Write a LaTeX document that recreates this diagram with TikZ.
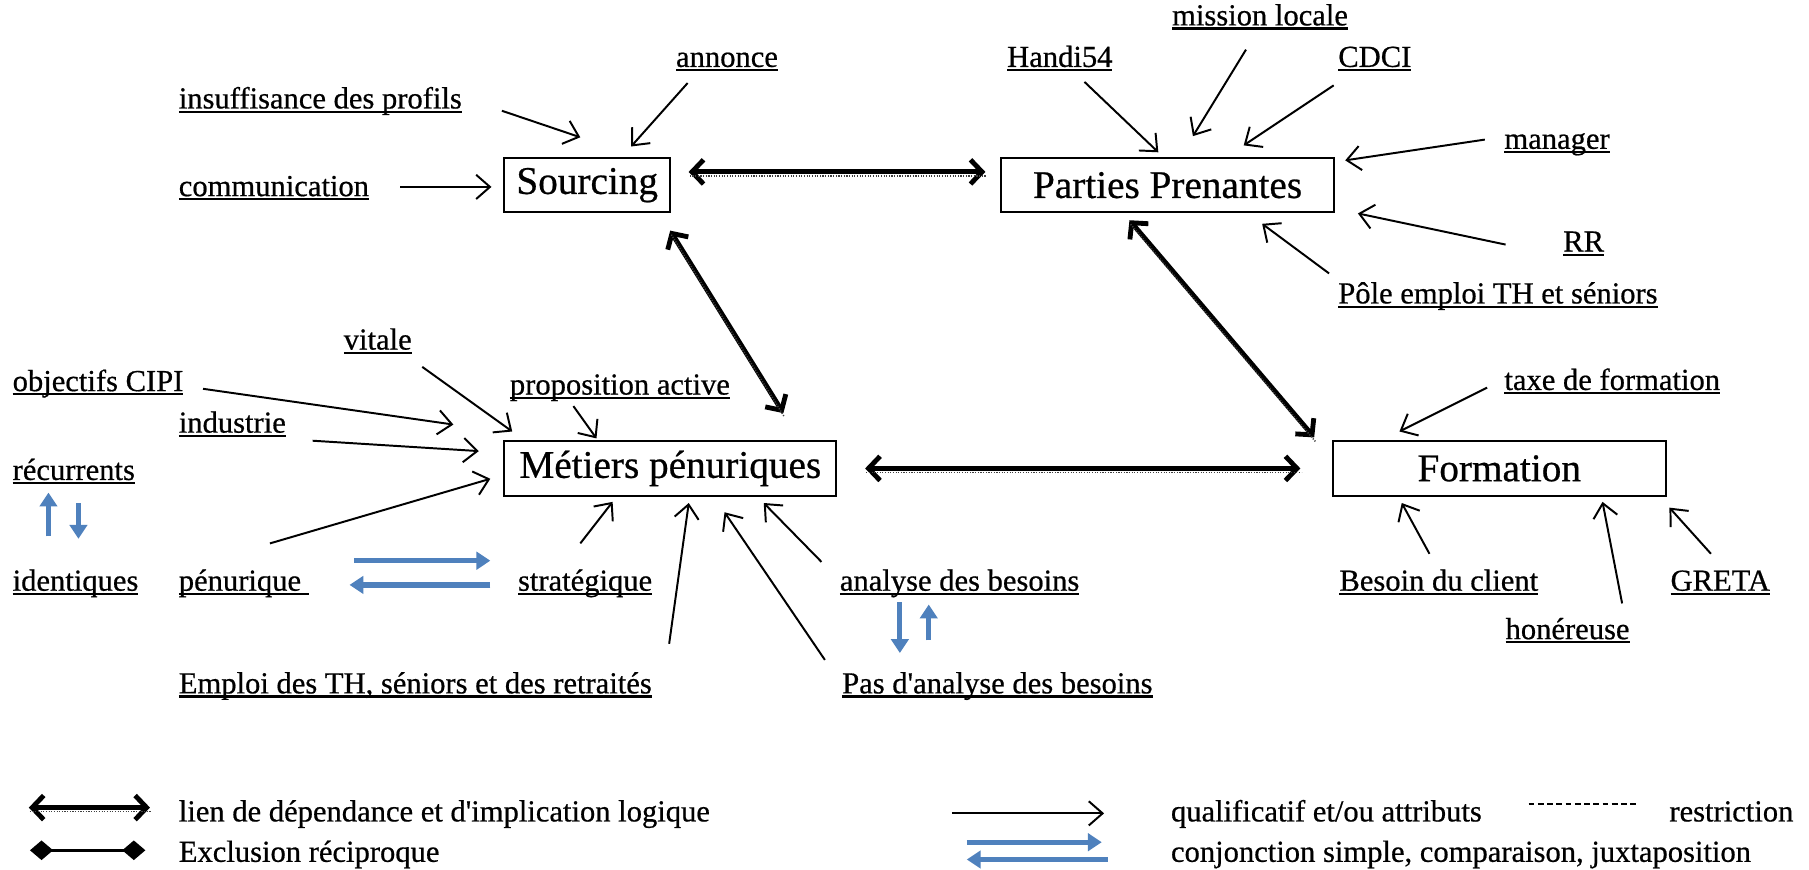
\documentclass[tikz,border=0pt]{standalone}
\usepackage{fontspec}
\setmainfont[FakeBold=0.6]{Liberation Serif}
\usetikzlibrary{arrows.meta}
\definecolor{lblue}{RGB}{79,129,189}
\newsavebox\ulbox
\newcommand\ulab[1]{\sbox\ulbox{#1}\rlap{\rule[-3.6pt]{\wd\ulbox}{1.8pt}}\usebox\ulbox}
\newcommand\qa[3]{\coordinate (#1a) at #2; \coordinate (#1b) at #3; \draw[attr] (#1a) -- (#1b);}
\newcommand\cj[3]{\coordinate (#1a) at #2; \coordinate (#1b) at #3; \draw[conj] (#1a) -- (#1b);}
\tikzset{
  lab/.style={anchor=base west, inner sep=0pt, outer sep=0pt},
  box/.style={draw, line width=1.8pt, minimum height=47pt, inner sep=0pt,
    font=\fontsize{34}{38}\selectfont},
  attr/.style={line width=1.7pt, -{Straight Barb[length=12pt,width=21pt]}},
  dep/.style={line width=4.2pt,
    {Straight Barb[length=10pt,width=21pt]}-{Straight Barb[length=10pt,width=21pt]},
    postaction={draw=black!75, -, line width=1.3pt, dash pattern=on 1pt off 1.3pt,
      transform canvas={shift={(1pt,-3.5pt)}}}},
  conj/.style={draw=lblue, line width=4.5pt, -{Triangle[length=12pt,width=15pt]}, lblue},
}
\begin{document}
\begin{tikzpicture}[x=1pt,y=-1pt,font=\fontsize{26.5}{30}\selectfont]
\fill[white] (0,0) rectangle (1568,754);
\useasboundingbox (0,0) rectangle (1568,754);

% boxes
\node[box, minimum width=144pt] (src) at (509,160.5) {Sourcing};
\node[box, minimum width=288pt] (pp) at (1012,160.5) {Parties Prenantes};
\node[box, minimum width=288pt, minimum height=48pt] (met) at (581,406) {Métiers pénuriques};
\node[box, minimum width=289pt, minimum height=48pt] (form) at (1299.5,406) {Formation};

% labels
\node[lab] (annonce) at (586,58) {\ulab{annonce}};
\node[lab] (insuf) at (155,94) {\ulab{insuffisance des profils}};
\node[lab] (comm) at (155,170) {\ulab{communication}};
\node[lab] (hand) at (873,58) {\ulab{Handi54}};
\node[lab] (mission) at (1016,22) {\ulab{mission locale}};
\node[lab] (cdci) at (1160,58) {\ulab{CDCI}};
\node[lab] (manager) at (1304,129) {\ulab{manager}};
\node[lab] (rr) at (1355,218) {\ulab{RR}};
\node[lab] (pole) at (1160,263) {\ulab{Pôle emploi TH et séniors}};
\node[lab] (vitale) at (298,303) {\ulab{vitale}};
\node[lab] (cipi) at (11,339) {\ulab{objectifs CIPI}};
\node[lab] (propo) at (442,342) {\ulab{proposition active}};
\node[lab] (indus) at (155,375) {\ulab{industrie}};
\node[lab] (recur) at (11,416) {\ulab{récurrents}};
\node[lab] (ident) at (11,512) {\ulab{identiques}};
\node[lab] (penur) at (155,512) {\ulab{pénurique\ }};
\node[lab] (strat) at (449,512) {\ulab{stratégique}};
\node[lab] (analyse) at (728,512) {\ulab{analyse des besoins}};
\node[lab] (besoin) at (1161,512) {\ulab{Besoin du client}};
\node[lab] (greta) at (1448,512) {\ulab{GRETA}};
\node[lab] (honer) at (1305,554) {\ulab{honéreuse}};
\node[lab] (taxe) at (1304,338) {\ulab{taxe de formation}};
\node[lab] (emploi) at (155,601) {\ulab{Emploi des TH, séniors et des retraités}};
\node[lab] (pas) at (730,601) {\ulab{Pas d\textquotesingle analyse des besoins}};

% thin qualifier arrows
\qa{q1}{(435,96)}{(503,119)}
\qa{q2}{(596,72)}{(547,127)}
\qa{q3}{(347,162)}{(426,162)}
\qa{q4}{(940,71)}{(1004,132)}
\qa{q5}{(1080,43)}{(1034,118)}
\qa{q6}{(1156,74)}{(1078,126)}
\qa{q7}{(1287,121)}{(1166,139)}
\qa{q8}{(1305,212)}{(1177,185)}
\qa{q9}{(1152,237)}{(1094,194)}
\qa{q10}{(176,337)}{(393,368)}
\qa{q11}{(366,318)}{(444,374)}
\qa{q12}{(497,352)}{(517,380)}
\qa{q13}{(271,382)}{(415,391)}
\qa{q14}{(234,471)}{(425,415)}
\qa{q15}{(503,471)}{(531,435)}
\qa{q16}{(580,558)}{(597,436)}
\qa{q17}{(715,572)}{(628,444)}
\qa{q18}{(712,487)}{(662,436)}
\qa{q19}{(1289,336)}{(1213,374)}
\qa{q20}{(1239,480)}{(1215,436)}
\qa{q21}{(1406,523)}{(1389,435)}
\qa{q22}{(1483,480)}{(1447,440)}

% dependence links
\draw[dep] ([xshift=15pt,yshift=11.5pt]src.east) -- ([xshift=-13pt,yshift=11.5pt]pp.west);
\draw[dep] ([xshift=-1pt,yshift=-15pt]src.south east) -- ([xshift=98pt,yshift=23pt]met.north);
\draw[dep] ([xshift=-33pt,yshift=-6pt]pp.south) -- ([xshift=-15pt,yshift=2pt]form.north west);
\draw[dep] ([xshift=24pt]met.east) -- ([xshift=-27pt]form.west);

% blue conjunction arrows
\cj{b1}{(42,465)}{(42,427)}
\cj{b2}{(68,436)}{(68,467)}
\cj{b3}{(307,486)}{(425,486)}
\cj{b4}{(425,507)}{(303,507)}
\cj{b5}{(780,522)}{(780,566)}
\cj{b6}{(805,555)}{(805,524)}

% legend
\coordinate (l1a) at (25,700); \coordinate (l1b) at (130,700);
\draw[dep] (l1a) -- (l1b);
\coordinate (l2a) at (26,737); \coordinate (l2b) at (126,737);
\draw[line width=3pt, {Diamond[length=20pt,width=17pt]}-{Diamond[length=20pt,width=17pt]}] (l2a) -- (l2b);
\node[lab] (leg1) at (155,712) {lien de dépendance et d\textquotesingle implication logique};
\node[lab] (leg2) at (155,747) {Exclusion réciproque};
\qa{l3}{(825,705)}{(957,705)}
\node[lab] (leg3) at (1015,712) {qualificatif et/ou attributs};
\coordinate (l4a) at (1325,697); \coordinate (l4b) at (1420,697);
\draw[line width=1.5pt, dash pattern=on 5pt off 3pt] (l4a) -- (l4b);
\node[lab] (leg4) at (1447,712) {restriction};
\cj{l5}{(838,730)}{(955,730)}
\cj{l6}{(960,745)}{(838,745)}
\node[lab] (leg5) at (1015,747) {conjonction simple, comparaison, juxtaposition};
\end{tikzpicture}
\end{document}
